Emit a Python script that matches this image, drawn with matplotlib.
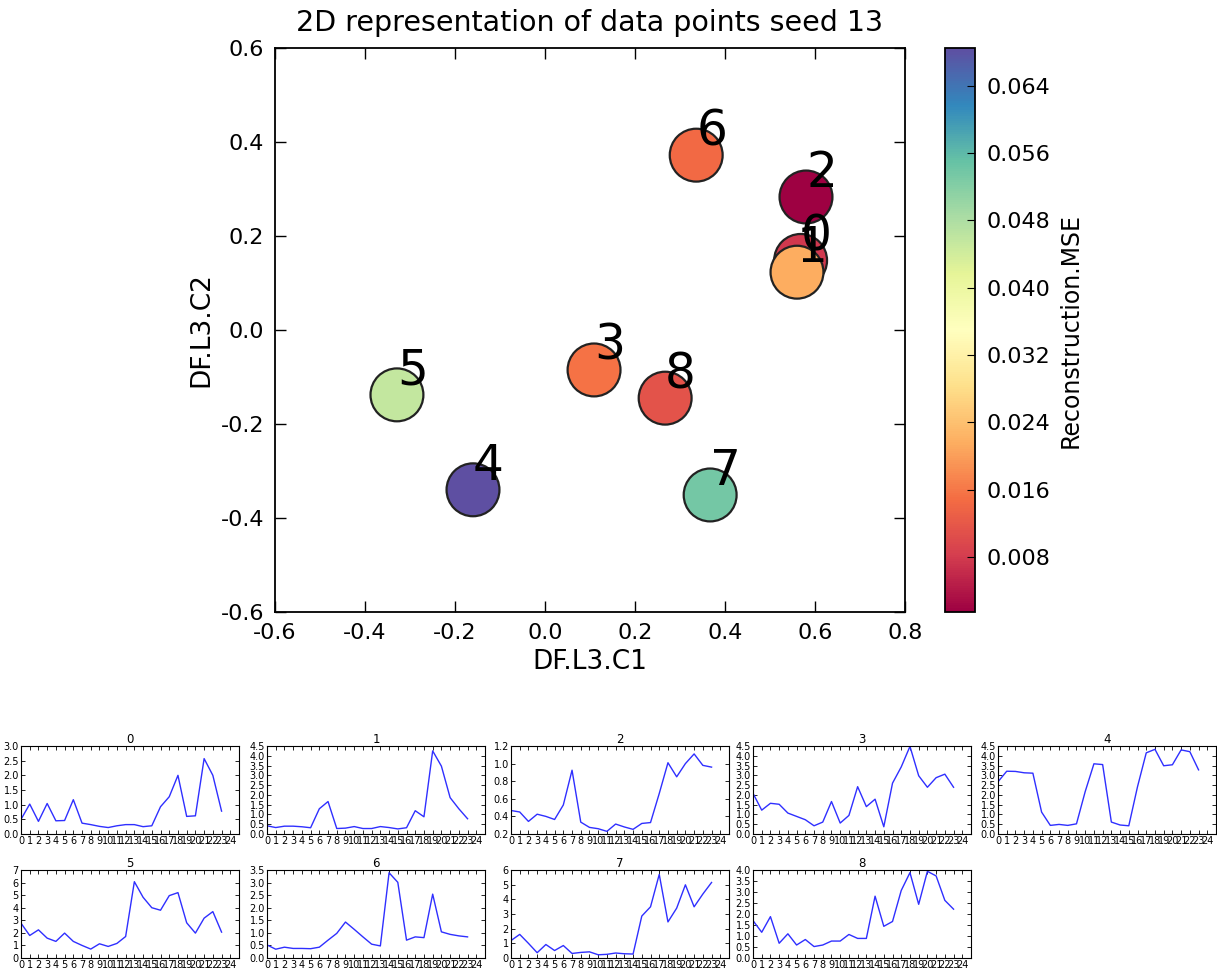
import numpy as np
import matplotlib
matplotlib.use("Agg")
import matplotlib.pyplot as plt
from matplotlib.colors import Normalize

plt.rcParams['font.family'] = ['DejaVu Sans']
plt.rcParams['axes.unicode_minus'] = False
plt.rcParams['xtick.direction'] = 'in'
plt.rcParams['ytick.direction'] = 'in'
plt.rcParams['xtick.top'] = True
plt.rcParams['ytick.right'] = True

# ---- 2D embedding of the series ----
point_ids = ['0', '1', '2', '3', '4', '5', '6', '7', '8']
c1 = [0.568, 0.560, 0.580, 0.109, -0.160, -0.329, 0.336, 0.367, 0.267]
c2 = [0.148, 0.123, 0.283, -0.085, -0.340, -0.138, 0.372, -0.351, -0.145]
mse = [0.0075, 0.0216, 0.00145, 0.0155, 0.0685, 0.0457, 0.0145, 0.0538, 0.0112]
cbar_ticks = [0.008, 0.016, 0.024, 0.032, 0.040, 0.048, 0.056, 0.064]

# ---- per-series reconstructed signals (24 steps) ----
series = {
    '0': [0.50, 1.02, 0.43, 1.04, 0.45, 0.46, 1.17, 0.37, 0.32, 0.26, 0.22, 0.28,
          0.32, 0.32, 0.25, 0.28, 0.93, 1.27, 2.00, 0.60, 0.62, 2.57, 2.00, 0.78],
    '1': [0.42, 0.33, 0.40, 0.40, 0.37, 0.32, 1.29, 1.66, 0.28, 0.30, 0.38, 0.28,
          0.28, 0.38, 0.33, 0.26, 0.32, 1.19, 0.88, 4.25, 3.47, 1.86, 1.29, 0.78],
    '2': [0.467, 0.45, 0.343, 0.425, 0.40, 0.365, 0.53, 0.925, 0.335, 0.275, 0.26, 0.23,
          0.313, 0.28, 0.253, 0.32, 0.33, 0.66, 1.01, 0.85, 1.00, 1.11, 0.98, 0.96],
    '3': [2.08, 1.22, 1.57, 1.52, 1.07, 0.90, 0.73, 0.42, 0.61, 1.66, 0.56, 0.95,
          2.42, 1.40, 1.78, 0.37, 2.60, 3.43, 4.48, 2.98, 2.39, 2.88, 3.06, 2.39],
    '4': [2.67, 3.21, 3.20, 3.13, 3.11, 1.12, 0.44, 0.49, 0.44, 0.52, 2.17, 3.59,
          3.55, 0.61, 0.46, 0.42, 2.42, 4.15, 4.33, 3.49, 3.54, 4.30, 4.21, 3.28],
    '5': [2.77, 1.79, 2.24, 1.58, 1.32, 1.98, 1.32, 1.00, 0.71, 1.13, 0.92, 1.16,
          1.71, 6.07, 4.83, 4.00, 3.80, 4.96, 5.20, 2.80, 1.98, 3.17, 3.69, 2.06],
    '6': [0.52, 0.35, 0.43, 0.38, 0.38, 0.37, 0.43, 0.71, 0.98, 1.43, 1.14, 0.84,
          0.55, 0.48, 3.39, 3.01, 0.71, 0.84, 0.81, 2.54, 1.04, 0.94, 0.88, 0.84],
    '7': [1.19, 1.61, 1.00, 0.36, 0.92, 0.51, 0.85, 0.31, 0.38, 0.42, 0.22, 0.25,
          0.34, 0.29, 0.27, 2.86, 3.49, 5.70, 2.46, 3.40, 4.99, 3.49, 4.36, 5.15],
    '8': [1.70, 1.17, 1.88, 0.67, 1.10, 0.59, 0.84, 0.52, 0.59, 0.77, 0.77, 1.07,
          0.89, 0.89, 2.81, 1.44, 1.66, 3.07, 3.88, 2.44, 3.94, 3.73, 2.62, 2.22],
}
y_limits = {
    '0': (0.0, 3.0, 0.5), '1': (0.0, 4.5, 0.5), '2': (0.2, 1.2, 0.2),
    '3': (0.0, 4.5, 0.5), '4': (0.0, 4.5, 0.5), '5': (0, 7, 1),
    '6': (0.0, 3.5, 0.5), '7': (0, 6, 1), '8': (0.0, 4.0, 0.5),
}

W, H = 1217, 973
fig = plt.figure(figsize=(W / 100, H / 100), dpi=100)


def box(l, t, r, b):
    return [l / W, 1 - b / H, (r - l) / W, (b - t) / H]


# main scatter
ax = fig.add_axes(box(275, 48, 905, 612))
norm = Normalize(vmin=min(mse), vmax=max(mse))
sc = ax.scatter(c1, c2, c=mse, cmap='Spectral', norm=norm, s=1450,
                edgecolors='#222222', linewidths=1.6, zorder=2)
for pid, x, y in zip(point_ids, c1, c2):
    ax.text(x, y, pid, fontsize=35, va='bottom', ha='left', zorder=3)
ax.set_xlim(-0.6, 0.8)
ax.set_ylim(-0.6, 0.6)
ax.set_xticks(np.arange(-0.6, 0.81, 0.2))
ax.set_yticks(np.arange(-0.6, 0.61, 0.2))
ax.xaxis.set_major_formatter(plt.FormatStrFormatter('%.1f'))
ax.yaxis.set_major_formatter(plt.FormatStrFormatter('%.1f'))
ax.tick_params(labelsize=16, length=8, width=1, pad=8)
ax.set_xlabel('DF.L3.C1', fontsize=19)
ax.set_ylabel('DF.L3.C2', fontsize=19)
ax.set_title('2D representation of data points seed 13', fontsize=20.5, pad=12)
for sp in ax.spines.values():
    sp.set_linewidth(1.3)

cax = fig.add_axes(box(945, 48, 975, 612))
cb = fig.colorbar(sc, cax=cax, ticks=cbar_ticks)
cb.ax.yaxis.set_major_formatter(plt.FormatStrFormatter('%.3f'))
cb.ax.tick_params(labelsize=16, length=6, direction='in', left=False, right=True, pad=8)
cb.set_label('Reconstruction.MSE', fontsize=17, labelpad=6)
cb.outline.set_linewidth(1.3)

# small multiples
col_left = [21, 267, 511, 753, 998]
rows = [(746, 834), (870, 958)]
for i, pid in enumerate(point_ids):
    r, c = divmod(i, 5)
    l = col_left[c]
    t, b = rows[r]
    a = fig.add_axes(box(l, t, l + 218, b))
    vals = series[pid]
    a.plot(np.arange(len(vals)), vals, color='#2f2fff', linewidth=1.0)
    lo, hi, step = y_limits[pid]
    a.set_ylim(lo, hi)
    a.set_yticks(np.arange(lo, hi + step / 2, step))
    if isinstance(step, float):
        a.yaxis.set_major_formatter(plt.FormatStrFormatter('%.1f'))
    a.set_xlim(0, 25)
    a.set_xticks(np.arange(0, 25))
    a.tick_params(labelsize=7, length=3, width=0.6, pad=1.5)
    a.set_title(pid, fontsize=8.5, pad=2)
    for sp in a.spines.values():
        sp.set_linewidth(0.8)

fig.savefig('out.png', dpi=100, facecolor='white')
